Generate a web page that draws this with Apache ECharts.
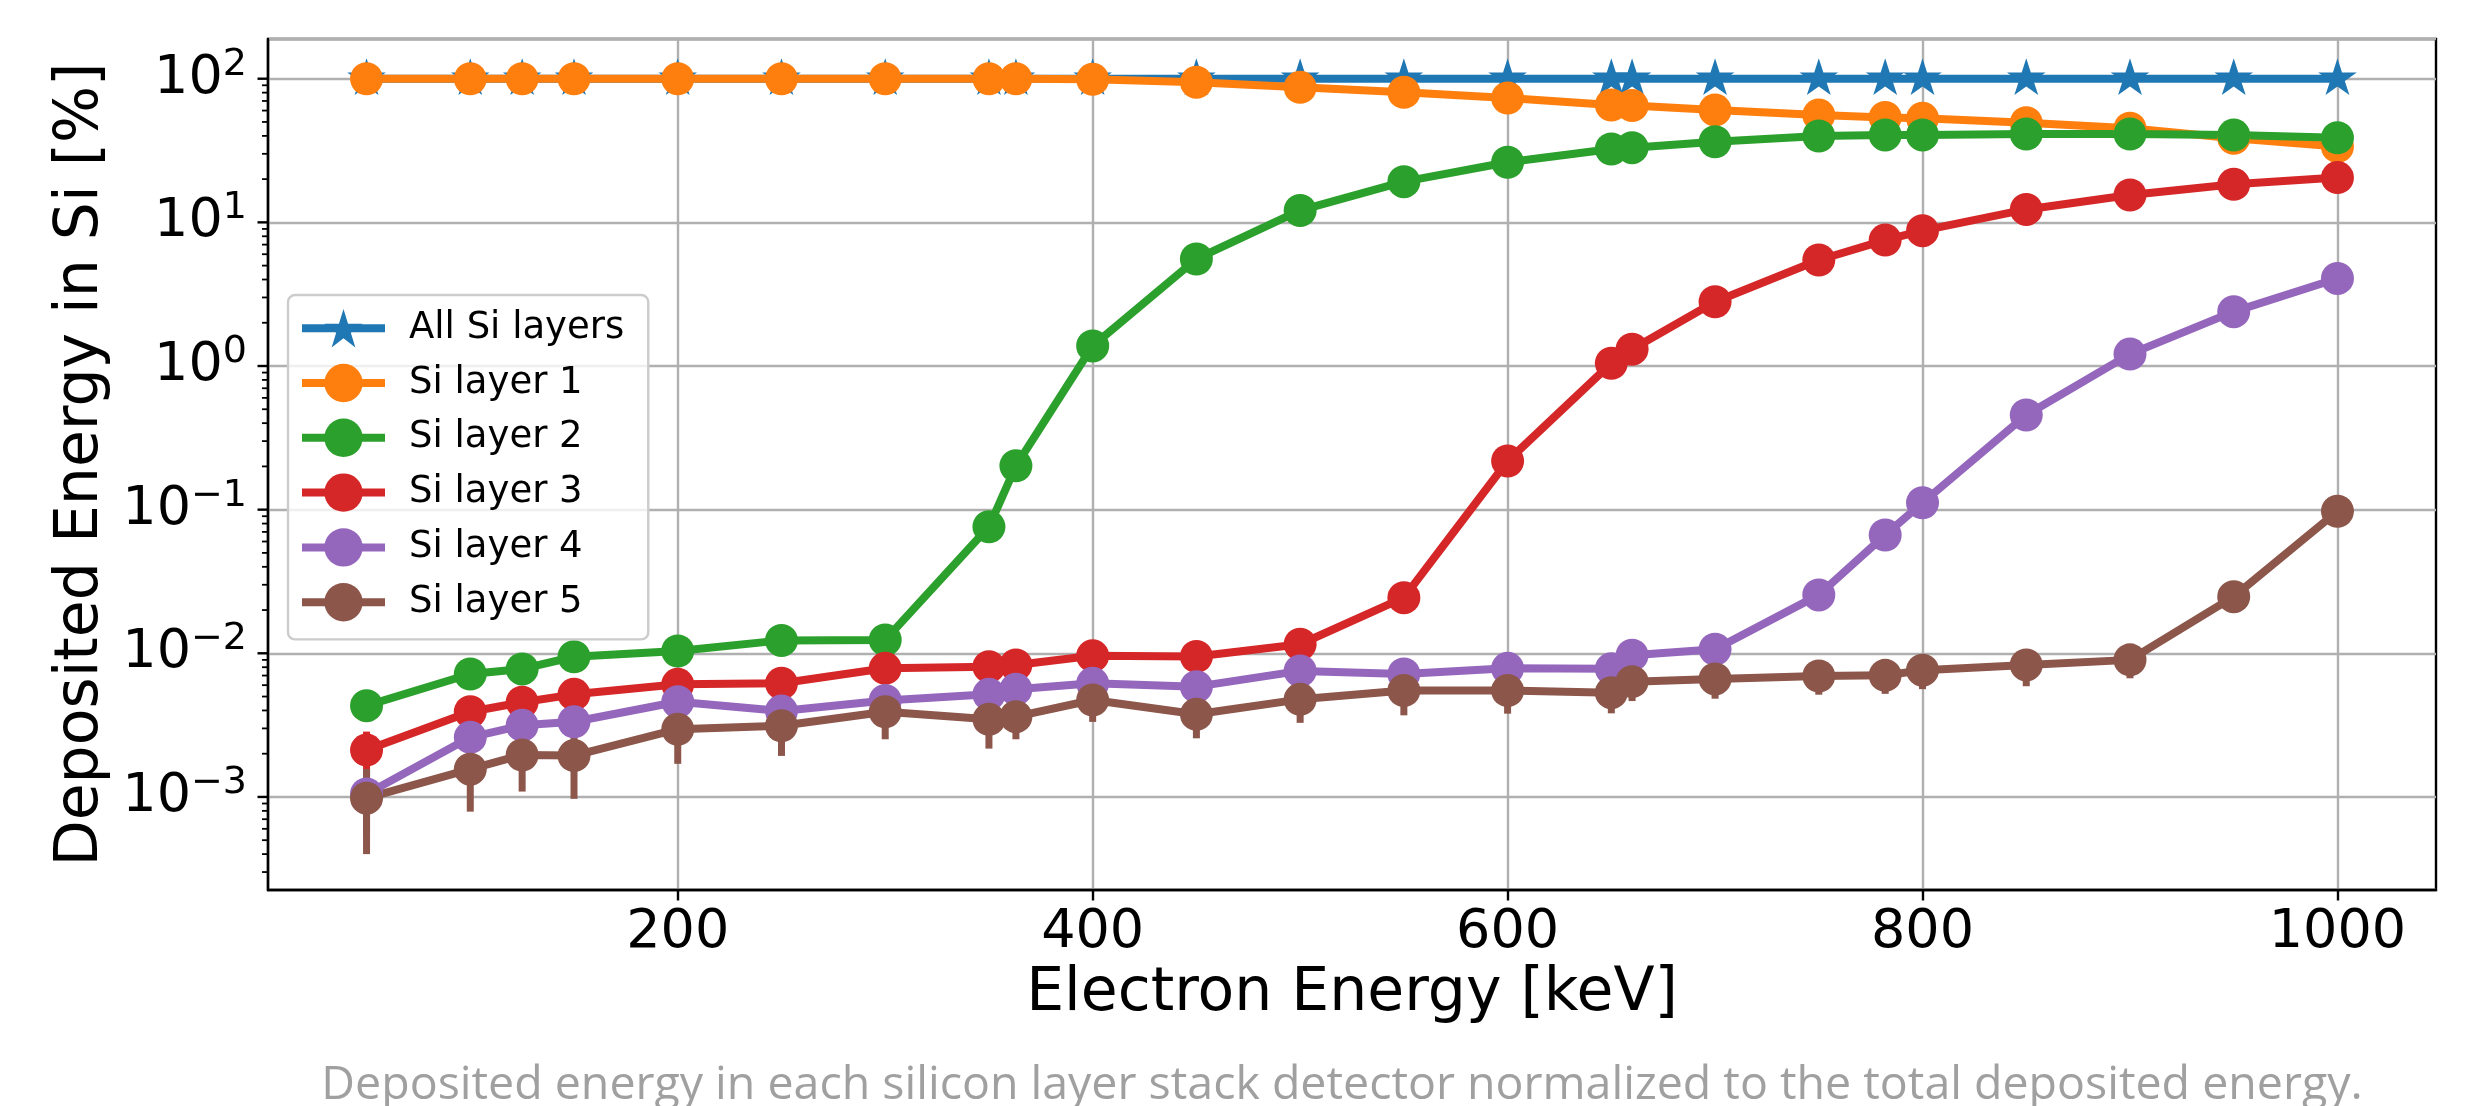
<!DOCTYPE html>
<html><head><meta charset="utf-8">
<script src="https://cdn.jsdelivr.net/npm/echarts@6/dist/echarts.min.js"></script>
<style>html,body{margin:0;padding:0;background:#fff;} #c{width:2469px;height:1106px;}</style>
</head><body><div id="c"></div>
<script>
// ---- data ----
const energies = [50,100,125,150,200,250,300,350,363,400,450,500,550,600,650,660,700,750,782,800,850,900,950,1000];
const allLayers = [100,100,100,100,100,100,100,100,100,100,100,100,100,100,100,100,100,100,100,100,100,100,100,100];
const layer1 = [100,100,100,100,100,100,100,100,100,99,94.4,87.1,80.4,73.4,65.6,65,60.5,55.8,53.8,53,49.4,45.2,38.5,33.7];
const layer2 = [0.00432,0.00718,0.00778,0.00946,0.01037,0.0123,0.0124,0.076,0.202,1.38,5.56,12.1,19.2,26.2,32.4,33.1,36.4,39.9,40.6,40.6,41.2,41.2,40.5,38.8];
const layer3 = [0.00212,0.00392,0.00456,0.00518,0.00608,0.00618,0.00786,0.00807,0.0083,0.0096,0.0095,0.01156,0.0244,0.218,1.045,1.31,2.8,5.47,7.53,8.75,12.3,15.5,18.4,20.5];
const layer4 = [0.00105,0.0026,0.00315,0.00334,0.0046,0.00396,0.0047,0.00518,0.00561,0.00618,0.00586,0.00754,0.00718,0.00786,0.0078,0.0097,0.01067,0.0255,0.0666,0.1117,0.456,1.21,2.39,4.07];
const layer5 = [0.00098,0.00156,0.00196,0.00194,0.00296,0.00313,0.00392,0.00347,0.00362,0.00473,0.00376,0.00478,0.0055,0.0055,0.00532,0.00635,0.00663,0.00695,0.00702,0.00763,0.0083,0.009,0.0248,0.0975];
const err3 = [0.00073,0.0008,0.0009,0.001,0.0011,0.0011,0.0012,0.0012,0.0012,0.0013,0.0013,0.0014,0.0016,0.005,0.02,0.02,0.03,0.04,0.05,0.05,0.06,0.06,0.07,0.07];
const err4 = [0.0005,0.0006,0.0007,0.0007,0.0009,0.0009,0.001,0.001,0.001,0.0011,0.0011,0.0012,0.0012,0.0013,0.0013,0.0014,0.0014,0.002,0.003,0.004,0.01,0.02,0.03,0.04];
const err5 = [0.00058,0.00077,0.00087,0.00097,0.00126,0.0012,0.0014,0.0013,0.0011,0.0014,0.0012,0.0015,0.0018,0.0017,0.0015,0.0017,0.0018,0.0018,0.0018,0.002,0.0024,0.0023,0.003,0.005];
const seriesNames = ['All Si layers','Si layer 1','Si layer 2','Si layer 3','Si layer 4','Si layer 5'];
const xTickValues = [200,400,600,800,1000];
const yDecades = [-4,-3,-2,-1,0,1,2];
const caption = 'Deposited energy in each silicon layer stack detector normalized to the total deposited energy.';

// ---- style ----
const colors = ['#1f77b4','#ff7f0e','#2ca02c','#d62728','#9467bd','#8c564b'];
const X_MIN = 2.5, X_MAX = 1047.5, Y_MIN = 0.000225, Y_MAX = 189;
const FONT = 'DejaVu Sans';
const STAR = 'path://M0 -100 L22.45 -30.9 L95.1 -30.9 L36.33 11.8 L58.78 80.9 L0 38.2 L-58.78 80.9 L-36.33 11.8 L-95.1 -30.9 L-22.45 -30.9 Z';

const values = [allLayers, layer1, layer2, layer3, layer4, layer5];
const errs = [null, null, null, err3, err4, err5];

// y ticks (major + minor) drawn through the axis scale
const yTickData = [];
yDecades.forEach(d => {
  for (let k = 1; k <= 9; k++) {
    const v = k * Math.pow(10, d);
    if (v >= Y_MIN && v <= Y_MAX) yTickData.push([X_MIN, v, k === 1 ? 1 : 0]);
  }
});

const series = [];
// error bars (below all data lines, like matplotlib)
values.forEach((vals, i) => {
  if (!errs[i]) return;
  series.push({
    type: 'custom', name: seriesNames[i] + ' err', z: 1, silent: true, clip: false,
    data: energies.map((x, j) => [x, vals[j] - errs[i][j], vals[j] + errs[i][j]]),
    encode: { x: 0, y: [1, 2] },
    renderItem: (params, api) => {
      const a = api.coord([api.value(0), api.value(1)]);
      const b = api.coord([api.value(0), api.value(2)]);
      return { type: 'line', shape: { x1: a[0], y1: a[1], x2: b[0], y2: b[1] },
        style: { stroke: colors[i], lineWidth: 7 } };
    }
  });
});
values.forEach((vals, i) => {
  series.push({
    type: 'line', name: seriesNames[i], z: 2,
    data: energies.map((x, j) => [x, vals[j]]),
    symbol: i === 0 ? STAR : 'circle',
    symbolSize: i === 0 ? [38.6, 36.7] : 33,
    symbolOffset: i === 0 ? [0, -2] : [0, 0],
    showAllSymbol: true,
    lineStyle: { color: colors[i], width: 8 },
    itemStyle: { color: colors[i] },
    emphasis: { disabled: true }
  });
});
series.push({
  type: 'custom', name: 'yticks', z: 5, silent: true, clip: false,
  data: yTickData, encode: { x: 0, y: 1 },
  renderItem: (params, api) => {
    const p = api.coord([api.value(0), api.value(1)]);
    const major = api.value(2) === 1;
    const len = major ? 10.5 : 6;
    return { type: 'line', shape: { x1: p[0] - len, y1: p[1], x2: p[0], y2: p[1] },
      style: { stroke: '#000', lineWidth: major ? 2.4 : 1.8 } };
  }
});

const chart = echarts.init(document.getElementById('c'), null, { renderer: 'canvas' });
chart.setOption({
  animation: false,
  backgroundColor: '#fff',
  grid: { left: 268, top: 39, width: 2168, height: 851, show: true, borderColor: '#000', borderWidth: 2.4, backgroundColor: 'transparent' },
  xAxis: {
    type: 'value', min: X_MIN, max: X_MAX,
    name: 'Electron Energy [keV]', nameLocation: 'middle', nameGap: 74,
    nameTextStyle: { fontFamily: FONT, fontSize: 60, color: '#000' },
    axisLine: { show: true, lineStyle: { color: '#000', width: 2.4 } },
    axisTick: { show: true, customValues: xTickValues, length: 10.5, lineStyle: { color: '#000', width: 2.4 } },
    axisLabel: { customValues: xTickValues, formatter: v => String(v), fontFamily: FONT, fontSize: 54, color: '#000', margin: 16 },
    splitLine: { show: true, lineStyle: { color: '#b0b0b0', width: 2.4 } }
  },
  yAxis: {
    type: 'log', logBase: 10, min: Y_MIN, max: Y_MAX,
    name: 'Deposited Energy in Si [%]', nameLocation: 'middle', nameGap: 153, nameRotate: 90,
    nameTextStyle: { fontFamily: FONT, fontSize: 60, color: '#000' },
    axisLine: { show: true, lineStyle: { color: '#000', width: 2.4 } },
    axisTick: { show: false },
    minorTick: { show: false },
    axisLabel: {
      showMinLabel: false, showMaxLabel: false, margin: 21,
      formatter: v => {
        const e = Math.round(Math.log10(v));
        return '{b|10}{s|' + String(e).replace('-', '\u2212') + '}';
      },
      rich: {
        b: { fontFamily: FONT, fontSize: 54, color: '#000', padding: [6, 0, 6, 0] },
        s: { fontFamily: FONT, fontSize: 38, color: '#000', verticalAlign: 'top' }
      }
    },
    splitLine: { show: true, lineStyle: { color: '#b0b0b0', width: 2.4 } }
  },
  legend: {
    data: seriesNames, orient: 'vertical', left: 288, top: 295,
    itemWidth: 83, itemHeight: 48, itemGap: 16.4,
    padding: [14, 24, 18, 10],
    backgroundColor: 'rgba(255,255,255,0.8)', borderColor: '#cccccc', borderWidth: 2.4, borderRadius: 7,
    lineStyle: { width: 8 },
    textStyle: { fontFamily: FONT, fontSize: 37, color: '#000', padding: [0, 0, 0, 19] },
    selectedMode: false
  },
  graphic: [{
    type: 'text', x: 1342, y: 1086,
    style: { text: caption, fontFamily: 'Open Sans', fontSize: 46.5, fill: '#a0a0a0', align: 'center', verticalAlign: 'middle' }
  }],
  series: series
});
</script></body></html>
